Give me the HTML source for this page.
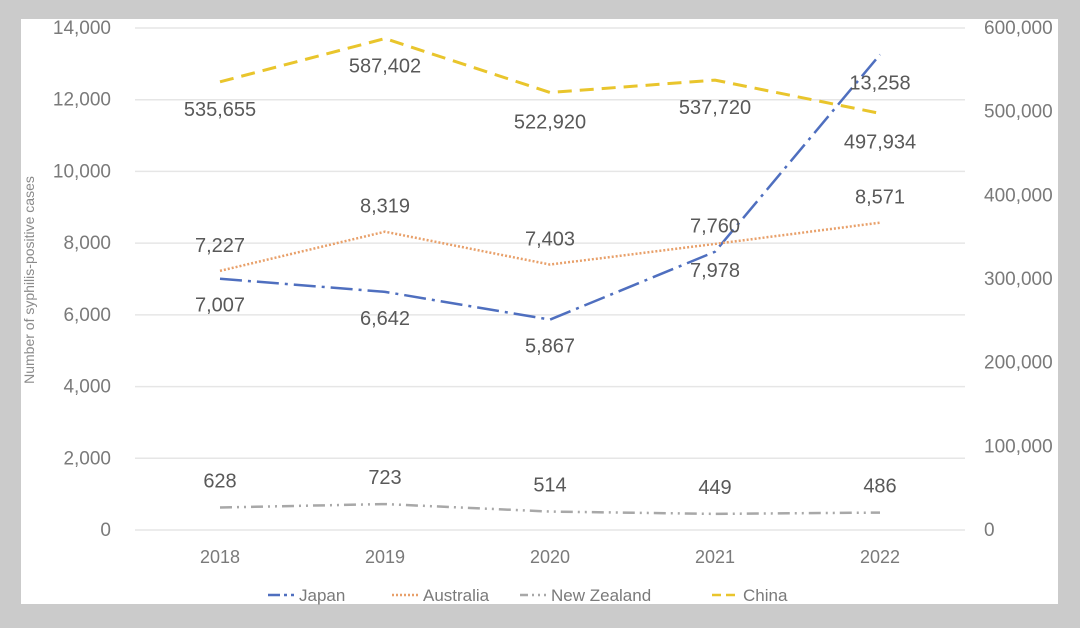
<!DOCTYPE html>
<html><head><meta charset="utf-8"><style>
html,body{margin:0;padding:0;background:#cbcbcb;}
svg{display:block;font-family:"Liberation Sans",sans-serif;}
</style></head><body>
<svg width="1080" height="628">
<rect x="0" y="0" width="1080" height="628" fill="#cbcbcb"/>
<rect x="21" y="19" width="1037" height="585" fill="#fff"/>
<g id="grid"></g><g id="axes"></g><g id="series"></g><g id="labels"></g>
<text x="34" y="280" transform="rotate(-90 34 280)" text-anchor="middle" font-size="14" fill="#8a8a8a">Number of syphilis-positive cases</text>
<g id="legend"></g>
</svg>
<script>
const categories=["2018","2019","2020","2021","2022"];
const japan=[7007,6642,5867,7760,13258];
const australia=[7227,8319,7403,7978,8571];
const newZealand=[628,723,514,449,486];
const china=[535655,587402,522920,537720,497934];
const leftTicks=[0,2000,4000,6000,8000,10000,12000,14000];
const rightTicks=[0,100000,200000,300000,400000,500000,600000];
const NS="http://www.w3.org/2000/svg";
const X0=220,DX=165,Y0=530,Y1=28;
const xs=i=>X0+i*DX;
const yL=v=>Y0-(v/14000)*(Y0-Y1);
const yR=v=>Y0-(v/600000)*(Y0-Y1);
const fmt=v=>v.toLocaleString("en-US");
function el(t,a,p){const e=document.createElementNS(NS,t);for(const k in a)e.setAttribute(k,a[k]);document.getElementById(p).appendChild(e);return e;}
leftTicks.forEach(v=>{
 const g=el("line",{x1:135,x2:965,y1:yL(v),y2:yL(v),stroke:"#e6e6e6","stroke-width":1.5},"grid");
 
 
 const t=el("text",{x:111,y:yL(v)+6,"text-anchor":"end","font-size":19,fill:"#7a7a7a"},"axes");
 t.textContent=fmt(v);
 
 
});
rightTicks.forEach(v=>{
 const t=el("text",{x:984,y:yR(v)+6,"font-size":19,fill:"#7a7a7a"},"axes");
 t.textContent=fmt(v);
 
 
});
categories.forEach((c,i)=>{
 const t=el("text",{x:xs(i),y:563,"text-anchor":"middle","font-size":18,fill:"#7a7a7a"},"axes");
 t.textContent=c;
 
 
});
const series=[
 {name:"japan",data:japan,y:yL,color:"#4f6fbf",dash:"22 6 3 6",w:2.5,off:[26,26,26,-26,28]},
 {name:"australia",data:australia,y:yL,color:"#e8a06a",dash:"2 2",w:2.5,off:[-26,-26,-26,26,-26]},
 {name:"new-zealand",data:newZealand,y:yL,color:"#a8a8a8",dash:"12 5 2 5 2 5",w:2.5,off:[-27,-27,-27,-27,-27]},
 {name:"china",data:china,y:yR,color:"#e9c52c",dash:"14 8",w:3,off:[27,27,29,27,28]}
];
series.forEach(s=>{
 const p=el("polyline",{points:s.data.map((v,i)=>xs(i)+","+s.y(v)).join(" "),fill:"none",stroke:s.color,"stroke-width":s.w,"stroke-dasharray":s.dash},"series");
 
 
 s.data.forEach((v,i)=>{
  const t=el("text",{x:xs(i),y:s.y(v)+s.off[i]+7,"text-anchor":"middle","font-size":20,fill:"#595959"},"labels");
  t.textContent=fmt(v);
  
  
 });
});
const leg=[["Japan",268,"#4f6fbf","12 4 3 4"],["Australia",392,"#e8a06a","2 2"],["New Zealand",520,"#a8a8a8","8 4 2 4 2 4"],["China",712,"#e9c52c","9 5"]];
leg.forEach(l=>{
 const ln=el("line",{x1:l[1],x2:l[1]+26,y1:595,y2:595,stroke:l[2],"stroke-width":2.5,"stroke-dasharray":l[3]},"legend");
 
 
 const t=el("text",{x:l[1]+31,y:601,"font-size":17,fill:"#7a7a7a"},"legend");
 t.textContent=l[0];
 
 
});
</script>
</body></html>
